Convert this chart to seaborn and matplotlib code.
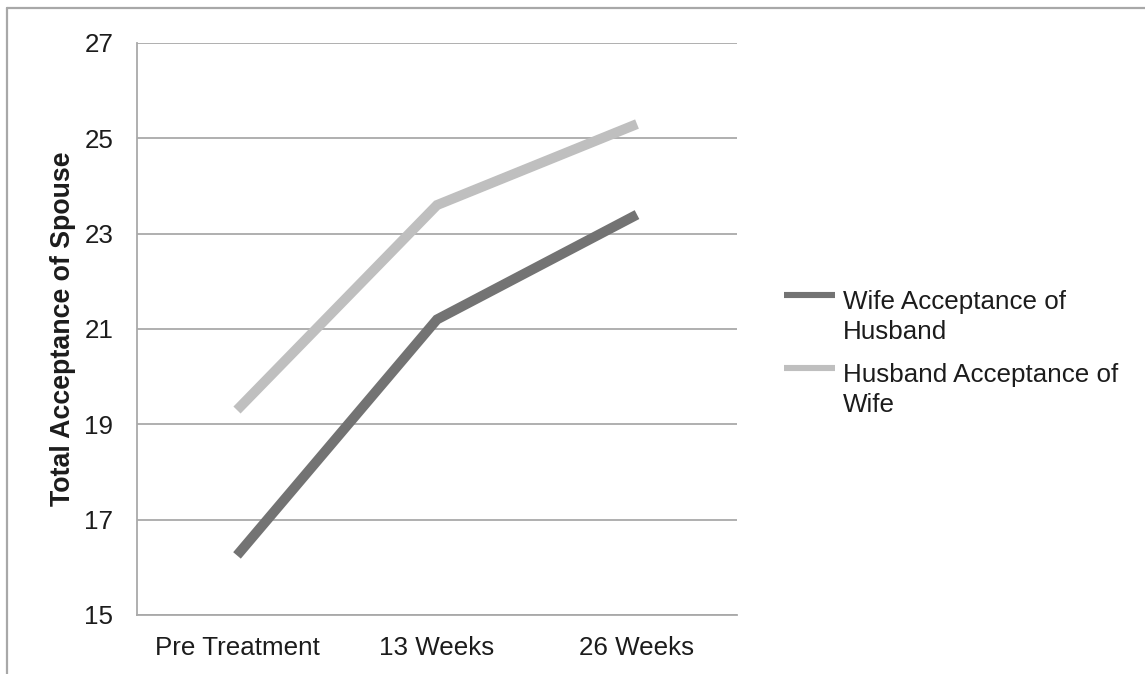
import matplotlib
matplotlib.use("Agg")
import matplotlib.pyplot as plt
from matplotlib.lines import Line2D
import numpy as np
import pandas as pd
import seaborn as sns

# --- data -------------------------------------------------------------
timepoints = ["Pre Treatment", "13 Weeks", "26 Weeks"]
wife_of_husband = [16.25, 21.2, 23.4]
husband_of_wife = [19.3, 23.6, 25.3]
series_names = ["Wife Acceptance of\nHusband", "Husband Acceptance of\nWife"]
y_ticks = [15, 17, 19, 21, 23, 25, 27]
y_label = "Total Acceptance of Spouse"

# --- styling ----------------------------------------------------------
sns.set_theme(style="white")
plt.rcParams["font.family"] = ["Liberation Sans", "DejaVu Sans"]

line_colors = {series_names[0]: "#737373", series_names[1]: "#bfbfbf"}
grid_color = "#a9a9a9"
text_color = "#1c1c1c"
font_size = 18.7

df = pd.DataFrame({
    "time": timepoints * 2,
    "score": wife_of_husband + husband_of_wife,
    "series": [series_names[0]] * 3 + [series_names[1]] * 3,
})

W, H = 1145, 674
fig = plt.figure(figsize=(W / 100, H / 100), dpi=100)
ax = fig.add_axes([137 / W, (H - 615) / H, 600 / W, 572 / H])

sns.lineplot(data=df, x="time", y="score", hue="series",
             hue_order=series_names, palette=line_colors,
             linewidth=7.2, legend=False, ax=ax,
             solid_capstyle="butt", solid_joinstyle="miter", sort=False)

ax.set_xlim(-0.5, 2.5)
ax.set_ylim(15, 27)
ax.set_yticks(y_ticks)
ax.set_yticklabels([str(t) for t in y_ticks])
ax.yaxis.grid(True, color=grid_color, linewidth=1.3)
ax.xaxis.grid(False)
ax.set_axisbelow(True)

for side in ("top", "right"):
    ax.spines[side].set_visible(False)
for side in ("left", "bottom"):
    ax.spines[side].set_color(grid_color)
    ax.spines[side].set_linewidth(1.3)

ax.tick_params(axis="y", length=0, pad=17, labelsize=font_size, labelcolor=text_color)
ax.tick_params(axis="x", length=0, pad=15, labelsize=font_size, labelcolor=text_color)
ax.set_xlabel("")
ax.set_ylabel(y_label, fontsize=19.3, fontweight="bold", color=text_color, va="center")
ax.yaxis.set_label_coords((63 - 137) / 600, 0.5)

# --- legend: handle aligned with the first line of each label ---------
# (handle centre y, baseline y of the last label line) in pixels from top
legend_rows = [(295, 339), (368, 412)]
for name, (handle_y, base_y) in zip(series_names, legend_rows):
    fig.add_artist(Line2D([784 / W, 835 / W], [(H - handle_y) / H] * 2,
                          color=line_colors[name], linewidth=4.4,
                          solid_capstyle="butt", transform=fig.transFigure))
    fig.text(843 / W, (H - base_y) / H, name, fontsize=font_size,
             color=text_color, ha="left", va="baseline", linespacing=1.33)

# --- outer frame (left and top edges) ---------------------------------
frame_color = "#a8a8a8"
fig.add_artist(Line2D([7 / W, 7 / W], [0, (H - 8) / H], color=frame_color,
                      linewidth=1.6, transform=fig.transFigure))
fig.add_artist(Line2D([7 / W, 1], [(H - 8) / H] * 2, color=frame_color,
                      linewidth=1.6, transform=fig.transFigure))

fig.savefig("out.png", dpi=100)
